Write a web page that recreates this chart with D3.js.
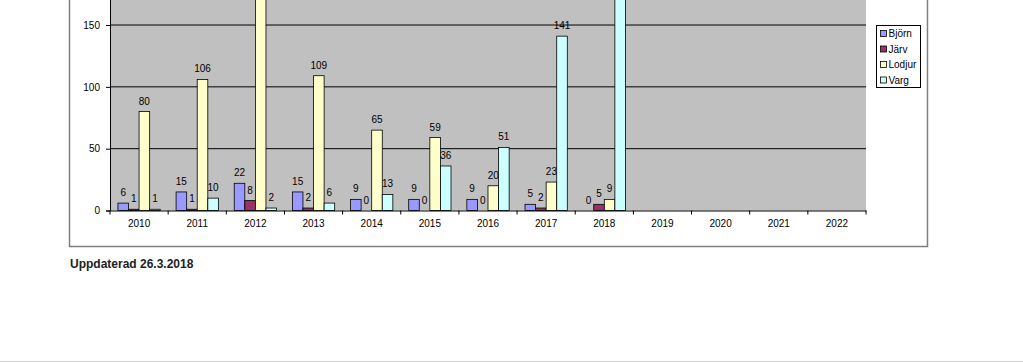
<!DOCTYPE html>
<html>
<head>
<meta charset="utf-8">
<script src="https://cdn.jsdelivr.net/npm/d3@7"></script>
<style>
  body { margin: 0; background: #fff; }
  svg { display: block; font-family: Arial, "Liberation Sans", sans-serif; }
</style>
</head>
<body>
<div id="chart"></div>
<script>
const years = ["2010","2011","2012","2013","2014","2015","2016","2017","2018","2019","2020","2021","2022"];
const series = ["Björn", "Järv", "Lodjur", "Varg"];
const bjorn  = [6, 15, 22, 15, 9, 9, 9, 5, 0, null, null, null, null];
const jarv   = [1, 1, 8, 2, 0, 0, 0, 2, 5, null, null, null, null];
const lodjur = [80, 106, 185, 109, 65, 59, 20, 23, 9, null, null, null, null];
const varg   = [1, 10, 2, 6, 13, 36, 51, 141, 190, null, null, null, null];
const yTicks = [0, 50, 100, 150];
const colors = ["#9999ff", "#993366", "#ffffcc", "#ccffff"];

const values = [bjorn, jarv, lodjur, varg];
const data = [];
years.forEach((yr, i) => {
    series.forEach((s, j) => {
        if (values[j][i] != null) data.push({year: yr, series: s, value: values[j][i]});
    });
});

const W = 1023, H = 362;
const plotLeft = 110, plotRight = 866, plotBottom = 210.5;

const svg = d3.select("#chart").append("svg")
    .attr("width", W).attr("height", H);

// outer chart frame (top is outside the window)
svg.append("rect")
   .attr("x", 69.5).attr("y", -50)
   .attr("width", 858).attr("height", 296.5)
   .attr("fill", "#fff").attr("stroke", "#7f7f7f").attr("stroke-width", 1.5);

const x0 = d3.scaleBand().domain(years).range([plotLeft, plotRight]).padding(0);
const x1 = d3.scaleBand().domain(series).range([0, x0.bandwidth()]).paddingInner(0).paddingOuter(0.75);
const y = d3.scaleLinear().domain([0, 200]).range([plotBottom, plotBottom - 247.3]);
const color = d3.scaleOrdinal().domain(series).range(colors);

// plot area
svg.append("rect")
   .attr("x", plotLeft).attr("y", y(200))
   .attr("width", plotRight - plotLeft).attr("height", plotBottom - y(200))
   .attr("fill", "#c0c0c0");

svg.append("g").selectAll("line")
   .data(yTicks.filter(d => d > 0))
   .enter().append("line")
   .attr("x1", plotLeft).attr("x2", plotRight)
   .attr("y1", d => y(d)).attr("y2", d => y(d))
   .attr("stroke", "#000").attr("stroke-width", 1);

// bars
const groups = svg.selectAll(".year-group")
   .data(d3.group(data, d => d.year))
   .enter().append("g")
   .attr("transform", d => `translate(${x0(d[0])},0)`);

groups.selectAll("rect")
   .data(d => d[1])
   .enter().append("rect")
   .attr("x", d => x1(d.series))
   .attr("y", d => y(d.value))
   .attr("width", x1.bandwidth())
   .attr("height", d => y(0) - y(d.value))
   .attr("fill", d => color(d.series))
   .attr("stroke", "#000").attr("stroke-width", 0.8);

// value labels; the two tallest sit above the window, as in the original
groups.selectAll("text")
   .data(d => d[1].filter(v => y(v.value) - 7 > 10))
   .enter().append("text")
   .attr("x", d => x1(d.series) + x1.bandwidth() / 2)
   .attr("y", d => y(d.value) - 7)
   .attr("text-anchor", "middle")
   .style("font-size", "10px")
   .attr("fill", "#000")
   .text(d => d.value);

// axes
const xAxis = svg.append("g")
   .attr("transform", `translate(0,${plotBottom})`)
   .call(d3.axisBottom(x0).tickSize(0).tickPadding(9));
xAxis.select(".domain").attr("stroke", "#000");
xAxis.selectAll("text").style("font-size", "10px").attr("fill", "#000");
xAxis.selectAll(".tickmark")
   .data(years.concat(["end"]))
   .enter().append("line")
   .attr("x1", (d, i) => plotLeft + i * x0.step())
   .attr("x2", (d, i) => plotLeft + i * x0.step())
   .attr("y1", 0).attr("y2", 4)
   .attr("stroke", "#000");

const yAxis = svg.append("g")
   .attr("transform", `translate(${plotLeft},0)`)
   .call(d3.axisLeft(y).tickValues(yTicks).tickSize(4).tickPadding(6));
yAxis.select(".domain").attr("stroke", "#000");
yAxis.selectAll("line").attr("stroke", "#000");
yAxis.selectAll("text").style("font-size", "10px").attr("fill", "#000");

// legend
const legend = svg.append("g").attr("transform", "translate(876.5,25.5)");
legend.append("rect")
   .attr("width", 44).attr("height", 62)
   .attr("fill", "#fff").attr("stroke", "#000").attr("stroke-width", 1);
series.forEach((s, i) => {
    legend.append("rect")
          .attr("x", 4).attr("y", 5 + i * 15.5)
          .attr("width", 6).attr("height", 6)
          .attr("fill", color(s)).attr("stroke", "#000").attr("stroke-width", 0.8);
    legend.append("text")
          .attr("x", 12).attr("y", 11.5 + i * 15.5)
          .style("font-size", "10px")
          .text(s);
});

svg.append("text")
   .attr("x", 70).attr("y", 267.5)
   .style("font-size", "12px").style("font-weight", "bold")
   .attr("fill", "#222")
   .text("Uppdaterad 26.3.2018");

svg.append("line")
   .attr("x1", 0).attr("x2", W).attr("y1", 361.5).attr("y2", 361.5)
   .attr("stroke", "#d0d0d0");
</script>
</body>
</html>
